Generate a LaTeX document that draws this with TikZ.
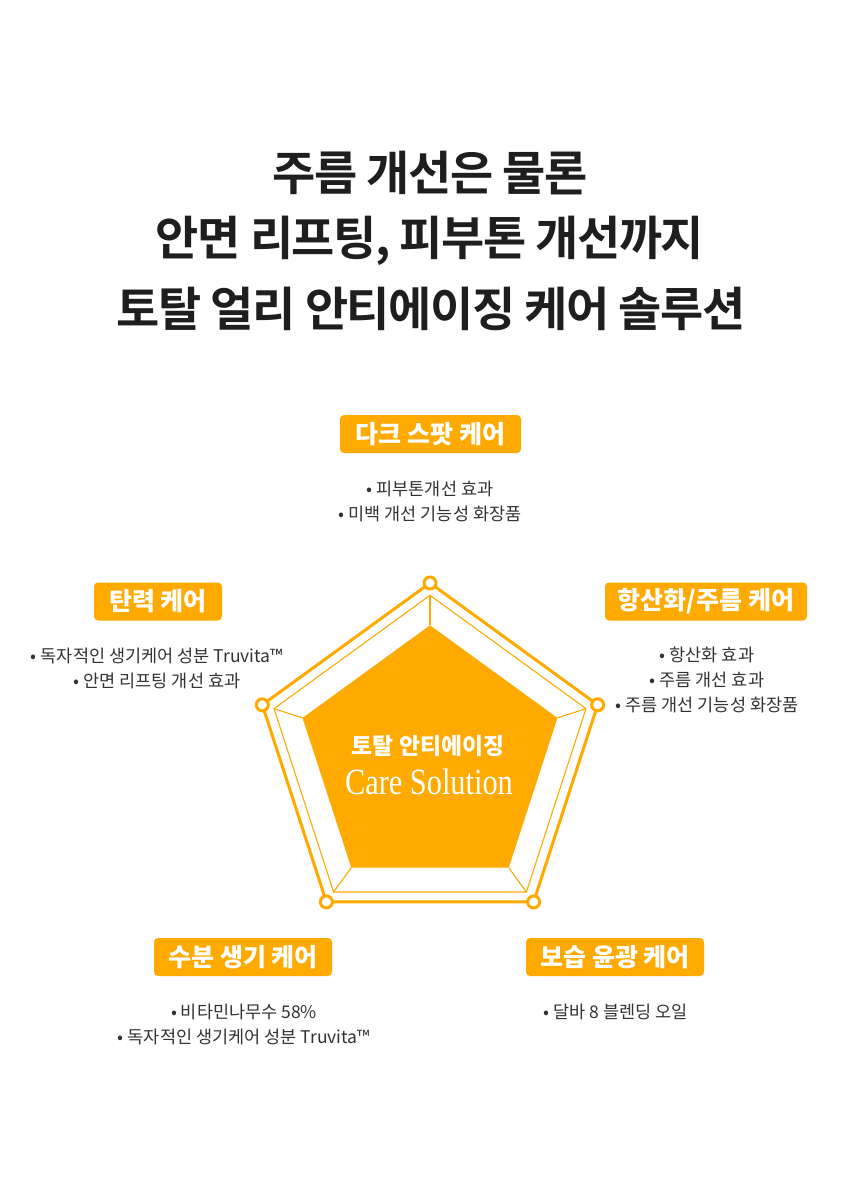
\documentclass[tikz,border=0pt]{standalone}
\usepackage{fontspec}
\usetikzlibrary{calc}
\setmainfont{Noto Sans CJK KR}
\newfontfamily\krtitle[LetterSpace=-3.2]{Noto Sans CJK KR Bold}
\newfontfamily\krlab{Noto Sans CJK KR}
\newfontfamily\krbody{Noto Sans CJK KR}
\newfontfamily\careserif[FakeStretch=0.82]{Liberation Serif}
\definecolor{brand}{HTML}{FFAA00}
\definecolor{titlec}{HTML}{1E1E1E}
\definecolor{bodyc}{HTML}{333333}
\tikzset{
  titletext/.style={font=\krtitle\fontsize{47}{68}\selectfont, text=titlec, align=center, inner sep=0pt},
  labelbox/.style={fill=brand, rounded corners=4pt, text=white, minimum height=38pt, inner sep=0pt, font=\krlab\bfseries\fontsize{25}{28}\selectfont},
  bullets/.style={font=\krbody\fontsize{17.5}{25}\selectfont, text=bodyc, align=center, inner sep=0pt},
  vdot/.style={circle, draw=brand, line width=3pt, fill=white, minimum size=12pt, inner sep=0pt},
  outerline/.style={draw=brand, line width=3pt, line join=miter},
  thinline/.style={draw=brand, line width=1.1pt},
}
\begin{document}
\begin{tikzpicture}[x=1pt,y=-1pt]
\fill[white] (0,0) rectangle (860,1193);
\useasboundingbox (0,0) rectangle (860,1193);

% title
\node[titletext] (t1) at (430,173) {주름 개선은 물론};
\node[titletext] (t2) at (430,241) {안면 리프팅, 피부톤 개선까지};
\node[titletext] (t3) at (431,309) {토탈 얼리 안티에이징 케어 솔루션};

% pentagon geometry
\coordinate (c) at (430,759.3);
\foreach \i/\a in {1/90,2/18,3/-54,4/-126,5/162}{
  \coordinate (o\i) at ($(c)+({176.3*cos(\a)},{-176.3*sin(\a)})$);
  \coordinate (m\i) at ($(c)+({164*cos(\a)},{-164*sin(\a)})$);
  \coordinate (f\i) at ($(c)+({134*cos(\a)},{-134*sin(\a)})$);
}
\fill[brand] (f1) -- (f2) -- (f3) -- (f4) -- (f5) -- cycle;
\draw[thinline] (m1) -- (m2) -- (m3) -- (m4) -- (m5) -- cycle;
\foreach \i in {1,...,5}{\draw[thinline] (m\i) -- (f\i);}
\draw[outerline] (o1) -- (o2) -- (o3) -- (o4) -- (o5) -- cycle;
\foreach \i in {1,...,5}{\node[vdot] (v\i) at (o\i) {};}

% center text
\node[font=\krlab\bfseries\fontsize{22.8}{26}\selectfont, text=white, inner sep=0pt] (ct1) at (428,745.5) {토탈 안티에이징};
\node[font=\careserif\fontsize{37}{40}\selectfont, text=white, inner sep=0pt] (ct2) at (429,782) {Care Solution};

% labels
\node[labelbox, minimum width=181pt] (l1) at (430.5,434) {다크 스팟 케어};
\node[bullets] (b1) at (430,501) {• 피부톤개선 효과\\• 미백 개선 기능성 화장품};

\node[labelbox, minimum width=128pt] (l2) at (158,601.5) {탄력 케어};
\node[bullets] (b2) at (157,668) {• 독자적인 생기케어 성분 Truvita™\\• 안면 리프팅 개선 효과};

\node[labelbox, minimum width=202pt] (l3) at (706,601.5) {항산화/주름 케어};
\node[bullets] (b3) at (707,680) {• 항산화 효과\\• 주름 개선 효과\\• 주름 개선 기능성 화장품};

\node[labelbox, minimum width=178pt] (l4) at (243,957) {수분 생기 케어};
\node[bullets] (b4) at (244,1024) {• 비타민나무수 58\%\\• 독자적인 생기케어 성분 Truvita™};

\node[labelbox, minimum width=178pt] (l5) at (615,957) {보습 윤광 케어};
\node[bullets] (b5) at (616,1012) {• 달바 8 블렌딩 오일};
\end{tikzpicture}
\end{document}
